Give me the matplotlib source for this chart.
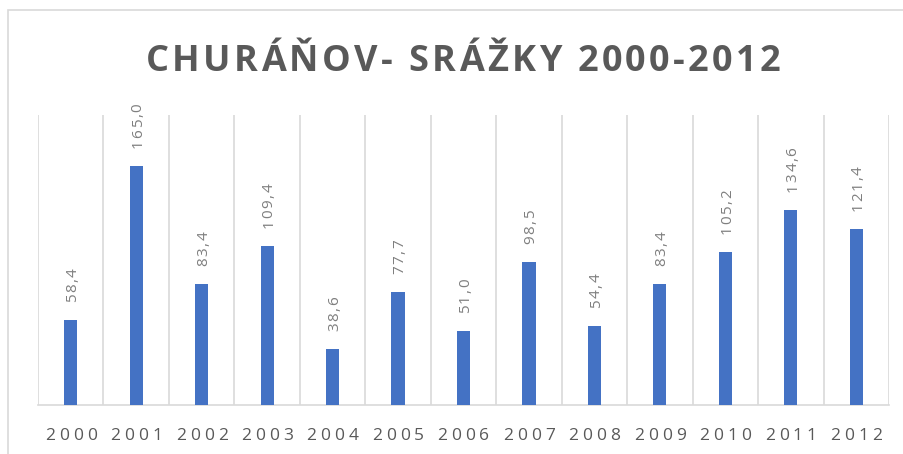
import matplotlib
matplotlib.use('Agg')
import matplotlib.pyplot as plt
from matplotlib.patches import Rectangle

plt.rcParams['font.family'] = ['Open Sans', 'DejaVu Sans']

years = ['2000', '2001', '2002', '2003', '2004', '2005', '2006',
         '2007', '2008', '2009', '2010', '2011', '2012']
srazky = [58.4, 165.0, 83.4, 109.4, 38.6, 77.7, 51.0,
          98.5, 54.4, 83.4, 105.2, 134.6, 121.4]

W, H = 904, 454
fig = plt.figure(figsize=(W / 100, H / 100), dpi=100)
ax = fig.add_axes([38 / W, 1 - 405 / H, (889 - 38) / W, (405 - 115) / H])
renderer = fig.canvas.get_renderer()


def char_widths(s, **kw):
    # sirka kazdeho znaku v pixelech
    t = fig.text(0, 0, 'xx', **kw)
    w0 = t.get_window_extent(renderer).width
    out = []
    for c in s:
        t.set_text('x' + c + 'x')
        out.append(t.get_window_extent(renderer).width - w0)
    t.remove()
    return out


def spaced_text(s, px, py, spacing, anchor='center', rotation=0, **kw):
    # text s rozestupem pismen, px/py v pixelech od leveho dolniho rohu
    ws = char_widths(s, **kw)
    total = sum(ws) + spacing * (len(s) - 1)
    start = {'center': -total / 2, 'left': 0}[anchor]
    pos = start
    for c, w in zip(s, ws):
        if rotation == 90:
            x, y = px, py + pos
        else:
            x, y = px + pos, py
        fig.text(x / W, y / H, c, ha='left', va='baseline', rotation=rotation,
                 rotation_mode='anchor', **kw)
        pos += w + spacing


x = list(range(len(years)))
ax.bar(x, srazky, width=0.2, color='#4472C4', zorder=3)

ax.set_xlim(-0.5, len(years) - 0.5)
ax.set_ylim(0, 200)
ax.set_yticks([])
ax.set_xticks([])

# svisle mrizky mezi kategoriemi
for b in range(len(years) + 1):
    ax.axvline(b - 0.5, color='#d9d9d9', lw=1.2, zorder=1)

for s in ['top', 'left', 'right']:
    ax.spines[s].set_visible(False)
ax.spines['bottom'].set_color('#d9d9d9')
ax.spines['bottom'].set_linewidth(1.2)

# popisky hodnot
for xi, v in zip(x, srazky):
    bx, by = ax.transData.transform((xi, v))
    spaced_text(f'{v:.1f}'.replace('.', ','), bx + 5.5, by + 18, 1.5, anchor='left',
                rotation=90, fontsize=11, color='#7f7f7f')

# popisky osy x
for xi, yr in zip(x, years):
    bx, _ = ax.transData.transform((xi, 0))
    spaced_text(yr, bx, H - 440, 4, fontsize=12.5, color='#595959')

title = 'CHURÁŇOV- SRÁŽKY 2000-2012'
tw = char_widths(title, fontsize=26, fontweight='bold')
spaced_text(title, 463, H - 71, (635 - sum(tw)) / (len(title) - 1),
            fontsize=26, fontweight='bold', color='#595959')

fig.add_artist(Rectangle((8 / W, -0.1), 1.2, 1.1 - 10 / H, transform=fig.transFigure,
                         fill=False, edgecolor='#d9d9d9', lw=1.2))

fig.savefig('out.png', dpi=100, facecolor='white')
